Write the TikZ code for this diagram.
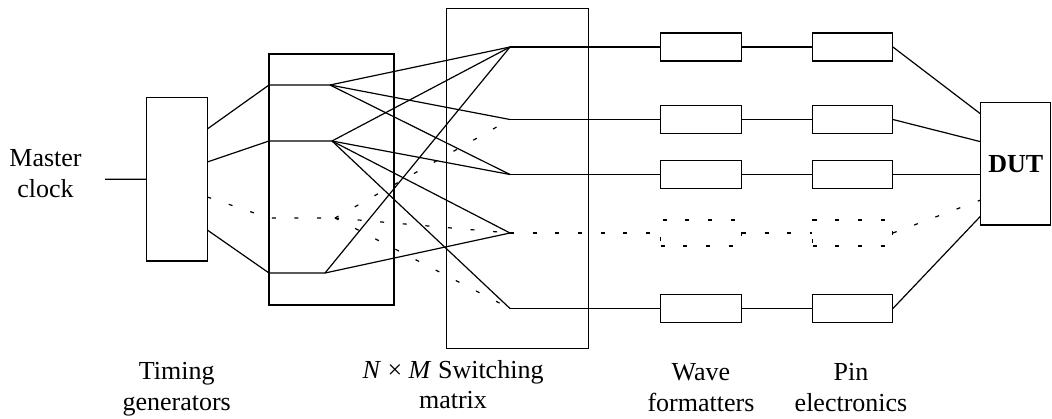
\documentclass[tikz,border=0pt]{standalone}
\usepackage{fontspec}
\setmainfont{Liberation Serif}
\usetikzlibrary{positioning}

\begin{document}
\begin{tikzpicture}[
  x=0.75pt, y=-0.75pt,
  font=\fontsize{19.5}{23}\selectfont,
  box/.style={draw, line width=0.9pt, inner sep=0pt},
  wfbox/.style={box, minimum width=60.5pt, minimum height=21pt},
  pebox/.style={wfbox, minimum width=59.7pt},
  wire/.style={line width=0.9pt},
  dotw/.style={line width=0.9pt, dash pattern=on 3pt off 14pt},
  lbl/.style={align=center, inner sep=0pt},
]
\useasboundingbox (0,0) rectangle (1052,418);

\node[box, minimum width=45.5pt, minimum height=122.8pt]  (tg)  at (177,179.2)   {};
\node[box, minimum width=93.75pt, minimum height=188.3pt] (fan) at (331.5,179.5) {};
\node[box, minimum width=106.2pt, minimum height=255pt]   (sw)  at (517.5,178.3) {};
\node[box, minimum width=52.5pt, minimum height=91.7pt, font=\fontsize{19.5}{23}\selectfont\bfseries]
     (dut) at (1015.8,163.8) {DUT};

\node[wfbox] (wf1) at (701,47)    {};
\node[wfbox] (wf2) at (701,119.5) {};
\node[wfbox] (wf3) at (701,174.5) {};
\node[wfbox, dotw, minimum height=19.5pt] (wf4) at (701,233) {};
\node[wfbox] (wf5) at (701,308.5) {};
\node[pebox] (pe1) at (852.5,47)    {};
\node[pebox] (pe2) at (852.5,119.5) {};
\node[pebox] (pe3) at (852.5,174.5) {};
\node[pebox, dotw, minimum height=19.5pt] (pe4) at (852.5,233) {};
\node[pebox] (pe5) at (852.5,308.5) {};

\node[lbl] (mclk)  at (45.5,173.3) {Master\\clock};
\node[lbl] (tglbl) at (176.7,389)  {Timing\\generators};
\node[lbl] (swlbl) at (453,384.6)  {\textit{N} × \textit{M} Switching\\matrix};
\node[lbl] (wflbl) at (701,387.6)  {Wave\\formatters};
\node[lbl] (pelbl) at (851,387.6)  {Pin\\electronics};

\coordinate (mc) at (105,179.3);
\coordinate (o1) at (207.3,129);
\coordinate (o2) at (207.3,162);
\coordinate (o3) at (207.3,197);
\coordinate (o4) at (207.3,230);
\coordinate (i1) at (269,85);
\coordinate (i2) at (269,141);
\coordinate (i3) at (269,218);
\coordinate (i4) at (269,273);
\coordinate (f1) at (330,85);
\coordinate (f2) at (332,141);
\coordinate (f3) at (335,218);
\coordinate (f4) at (325,273);
\coordinate (p1) at (510,47);
\coordinate (p2) at (510,119.5);
\coordinate (p3) at (510,174.5);
\coordinate (p4) at (510,233);
\coordinate (p5) at (510,308.5);
\coordinate (d1) at (980.7,114);
\coordinate (d2) at (980.7,141.7);
\coordinate (d3) at (980.7,174.5);
\coordinate (d4) at (980.7,200);
\coordinate (d5) at (980.7,216);

\draw[wire] (mc) -- (tg.west);
\draw[wire] (o1) -- (i1) -- (f1);
\draw[wire] (o2) -- (i2) -- (f2);
\draw[wire] (o4) -- (i4) -- (f4);
\draw[dotw] (o3) -- (i3) -- (f3);

\draw[wire] (f1) -- (p1);
\draw[wire] (f1) -- (p2);
\draw[wire] (f1) -- (p3);
\draw[wire] (f2) -- (p1);
\draw[wire] (f2) -- (p3);
\draw[wire] (f2) -- (p4);
\draw[wire] (f2) -- (p5);
\draw[wire] (f4) -- (p1);
\draw[wire] (f4) -- (p4);
\draw[dotw] (f3) -- (p2);
\draw[dotw] (f3) -- (p4);
\draw[dotw] (f3) -- (p5);

\draw[wire] (p1) -- (wf1.west);
\draw[wire] (p2) -- (wf2.west);
\draw[wire] (p3) -- (wf3.west);
\draw[dotw] (p4) -- (wf4.west);
\draw[wire] (p5) -- (wf5.west);
\draw[wire] (wf1) -- (pe1);
\draw[wire] (wf2) -- (pe2);
\draw[wire] (wf3) -- (pe3);
\draw[dotw] (wf4) -- (pe4);
\draw[wire] (wf5) -- (pe5);
\draw[wire] (pe1.east) -- (d1);
\draw[wire] (pe2.east) -- (d2);
\draw[wire] (pe3.east) -- (d3);
\draw[dotw] (pe4.east) -- (d4);
\draw[wire] (pe5.east) -- (d5);
\end{tikzpicture}
\end{document}
